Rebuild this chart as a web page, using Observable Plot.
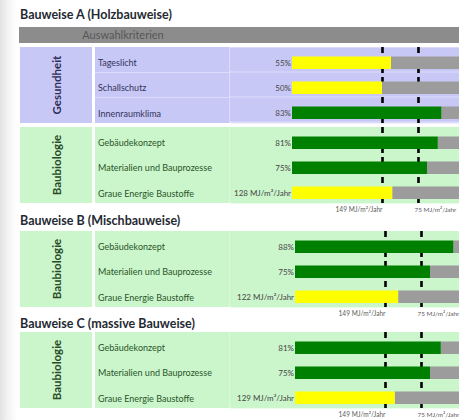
<!DOCTYPE html>
<html>
<head>
<meta charset="utf-8">
<script src="https://cdn.jsdelivr.net/npm/d3@7"></script>
<script src="https://cdn.jsdelivr.net/npm/@observablehq/plot@0.6"></script>
<style>
  body { margin: 0; background: #fff; font-family: Lato, "Open Sans", sans-serif; }
  #page { position: relative; width: 459px; height: 420px; overflow: hidden;
          background: linear-gradient(to right, #e2e2e2 0, #f3f3f3 8px, #fff 17px); }
  .title { position: absolute; left: 20px; font-weight: 700; font-size: 12.5px; line-height: 12px;
           color: #1f2a33; white-space: nowrap; }
  .header { position: absolute; left: 19px; top: 27px; width: 460px; height: 16px; background: #8c8c8c; }
  .header span { position: absolute; left: 0; width: 208px; text-align: center; line-height: 16px;
                 font-size: 11px; color: #575757; }
  .block { position: absolute; left: 20px; width: 460px; }
  .grp { position: absolute; left: 0; top: 0; width: 72px; }
  .grp span { position: absolute; left: 50%; top: 50%; transform: translate(-50%, -50%) rotate(-90deg);
              font-weight: 700; font-size: 11.5px; white-space: nowrap; }
  .crit { position: absolute; left: 75px; top: 0; width: 134px; }
  .crit .lab { position: absolute; left: 3px; transform: translateY(-50%); font-size: 9px; white-space: nowrap; }
  .crit .sep { position: absolute; left: 0; width: 134px; height: 1px; }
  .vsep { position: absolute; left: 209px; top: 0; width: 1px; }
  .plot { position: absolute; left: 210px; top: 0; }
  .plot svg { overflow: visible; }
</style>
</head>
<body>
<div id="page"></div>
<script>
// Section titles and table labels
const sectionTitles = ["Bauweise A (Holzbauweise)", "Bauweise B (Mischbauweise)", "Bauweise C (massive Bauweise)"];
const headerLabel = "Auswahlkriterien";
const groupNames = ["Gesundheit", "Baubiologie"];
const gesundheitCriteria = ["Tageslicht", "Schallschutz", "Innenraumklima"];
const baubiologieCriteria = ["Gebäudekonzept", "Materialien und Bauprozesse", "Graue Energie Baustoffe"];

// Degree of fulfilment in percent
const gesundheitA = [55, 50, 83];
const baubiologieA = [81, 75];
const baubiologieB = [88, 75];
const baubiologieC = [81, 75];

// Grey energy of the building materials (A, B, C)
const graueEnergie = [128, 122, 129];
const energyUnit = "MJ/m²/Jahr";

// Target lines: position on the percent scale and the matching grey-energy value
const thresholdPct = [50, 70];
const thresholdEnergy = [149, 75];

// Less grey energy means a longer bar: map energy onto the percent scale through the two target values
const energyToPct = d3.scaleLinear().domain(thresholdEnergy).range(thresholdPct);

const pctRows = (criteria, values) =>
  values.map((v, i) => ({criterion: criteria[i], pct: v, label: `${v}%`}));
const baubiologieRows = (values, energy) => [
  ...pctRows(baubiologieCriteria, values),
  {criterion: baubiologieCriteria[2], pct: energyToPct(energy), label: `${energy} ${energyUnit}`}
];

const lavender = {bg: "#c8c8f6", sep: "#dcdcfa", text: "#33335c", group: "#2e2e58"};
const mint = {bg: "#cbf5cb", sep: "#dbf8db", text: "#2a552a", group: "#284a28"};
const GREEN = "#008000", YELLOW = "#ffff00", REST = "#9c9c9c";
const ROW = 25.3;

const blocks = [
  {top: 47, group: groupNames[0], theme: lavender, rows: pctRows(gesundheitCriteria, gesundheitA), ticks: false, barStart: 62, rowLines: true},
  {top: 127, group: groupNames[1], theme: mint, rows: baubiologieRows(baubiologieA, graueEnergie[0]), ticks: true, barStart: 62},
  {top: 231, group: groupNames[1], theme: mint, rows: baubiologieRows(baubiologieB, graueEnergie[1]), ticks: true, barStart: 65},
  {top: 332, group: groupNames[1], theme: mint, rows: baubiologieRows(baubiologieC, graueEnergie[2]), ticks: true, barStart: 65}
];
const titleTops = [9, 215, 318];

const page = document.getElementById("page");

sectionTitles.forEach((t, i) => {
  const d = document.createElement("div");
  d.className = "title";
  d.style.top = titleTops[i] + "px";
  d.textContent = t;
  page.appendChild(d);
});

const header = document.createElement("div");
header.className = "header";
header.innerHTML = `<span>${headerLabel}</span>`;
page.appendChild(header);

function barPlot(block) {
  const n = block.rows.length;
  const h = n * ROW;
  const mb = block.ticks ? 17 : 0;
  const bar = {insetTop: 9.5, insetBottom: 3};
  const tickLabels = thresholdEnergy.map(e => `${e} ${energyUnit}`);
  return Plot.plot({
    width: 250,
    height: h + mb,
    marginTop: 0, marginRight: 0, marginLeft: 0, marginBottom: mb,
    style: {background: "transparent", fontFamily: "Lato, 'Open Sans', sans-serif"},
    x: {domain: [0, 100], range: [block.barStart, block.barStart + 180], axis: null},
    y: {domain: block.rows.map(d => d.criterion), range: [0, h], padding: 0, axis: null},
    color: {type: "identity"},
    marks: [
      Plot.frame({fill: block.rowLines ? block.theme.sep : block.theme.bg, stroke: null}),
      Plot.cell(block.rows, {y: "criterion", fill: block.theme.bg,
        insetTop: block.rowLines ? 0.5 : 0, insetBottom: block.rowLines ? 0.5 : 0}),
      Plot.ruleX(thresholdPct, {stroke: "#000", strokeWidth: 2.6, strokeDasharray: "6,4",
        insetBottom: block.ticks ? -2 : -4}),
      Plot.barX(block.rows, {y: "criterion", x1: "pct", x2: 100, fill: REST, ...bar}),
      Plot.barX(block.rows, {y: "criterion", x1: 0, x2: "pct",
        fill: d => d.pct >= thresholdPct[1] ? GREEN : YELLOW, ...bar}),
      Plot.text(block.rows, {y: "criterion", x: 0, text: "label", textAnchor: "end",
        dx: -1.5, dy: 3.25, fontSize: 8, fill: "#454545"}),
      block.ticks ? Plot.text([tickLabels[0]], {x: thresholdPct[0], text: d => d, frameAnchor: "bottom",
        textAnchor: "end", dy: 9, fontSize: 6.6, fill: "#5c5c5c"}) : null,
      block.ticks ? Plot.text([tickLabels[1]], {x: thresholdPct[1], text: d => d, frameAnchor: "bottom",
        textAnchor: "start", dx: -4, dy: 9, fontSize: 6.4, fill: "#5c5c5c"}) : null
    ]
  });
}

blocks.forEach(block => {
  const h = block.rows.length * ROW;
  const el = document.createElement("div");
  el.className = "block";
  el.style.top = block.top + "px";
  el.style.height = h + "px";

  const grp = document.createElement("div");
  grp.className = "grp";
  grp.style.height = h + "px";
  grp.style.background = block.theme.bg;
  grp.innerHTML = `<span style="color:${block.theme.group}">${block.group}</span>`;
  el.appendChild(grp);

  const crit = document.createElement("div");
  crit.className = "crit";
  crit.style.height = h + "px";
  crit.style.background = block.theme.bg;
  block.rows.forEach((r, i) => {
    if (i > 0 && block.rowLines) {
      const s = document.createElement("div");
      s.className = "sep";
      s.style.top = (i * ROW - 0.5) + "px";
      s.style.background = block.theme.sep;
      crit.appendChild(s);
    }
    const l = document.createElement("div");
    l.className = "lab";
    l.style.top = (i * ROW + ROW / 2 + 2.5) + "px";
    l.style.color = block.theme.text;
    l.textContent = r.criterion;
    crit.appendChild(l);
  });
  el.appendChild(crit);

  const vsep = document.createElement("div");
  vsep.className = "vsep";
  vsep.style.height = h + "px";
  vsep.style.background = block.theme.sep;
  el.appendChild(vsep);

  const p = document.createElement("div");
  p.className = "plot";
  p.appendChild(barPlot(block));
  el.appendChild(p);

  page.appendChild(el);
});
</script>
</body>
</html>
